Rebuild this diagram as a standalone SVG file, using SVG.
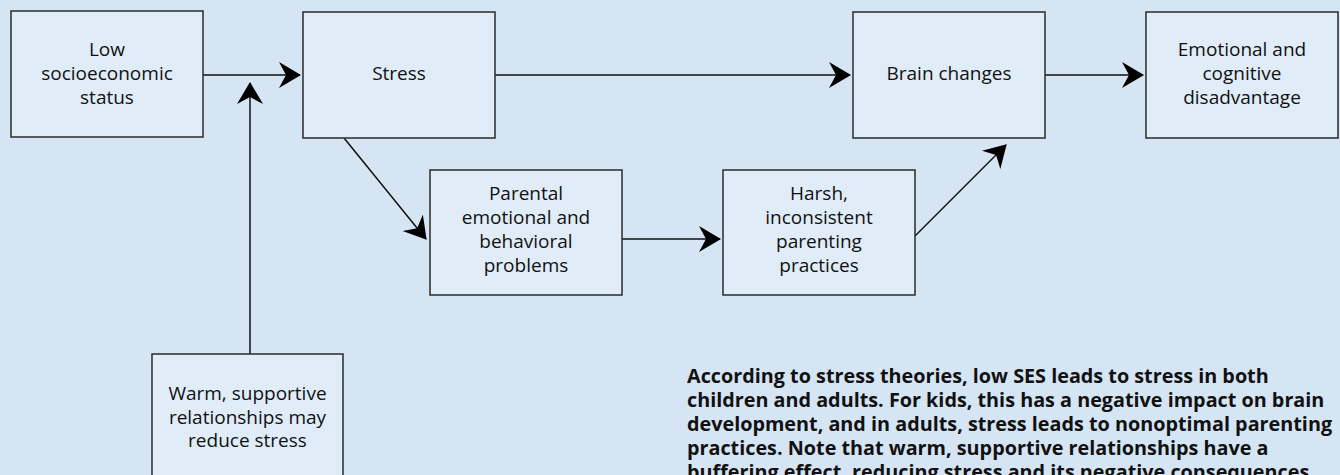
<svg xmlns="http://www.w3.org/2000/svg" width="1340" height="475" viewBox="0 0 1340 475">
<defs>
<style>
.box{fill:#e0ecf8;stroke:#2b2b2b;stroke-width:1.5}
.lbl{font-family:"Open Sans","Noto Sans","Liberation Sans",sans-serif;font-size:19px;fill:#111;text-anchor:middle}
.note{font-family:"Open Sans","Noto Sans","Liberation Sans",sans-serif;font-size:19.8px;font-weight:bold;fill:#111}
.con{stroke:#111;stroke-width:1.5;fill:none;marker-end:url(#ah)}
</style>
<marker id="ah" markerUnits="userSpaceOnUse" markerWidth="23" markerHeight="27" refX="21" refY="13" orient="auto" viewBox="0 0 23 27">
<path d="M0,0 L22,13 L0,26 L7,13 Z" fill="#000"/>
</marker>
</defs>
<rect width="1340" height="475" fill="#d5e5f4"/>
<g id="connectors">
<line class="con" x1="203" y1="75" x2="300" y2="75"/>
<line class="con" x1="250" y1="354" x2="250" y2="83"/>
<line class="con" x1="495" y1="75" x2="850" y2="75"/>
<line class="con" x1="1045" y1="75" x2="1143" y2="75"/>
<line class="con" x1="344" y1="138" x2="426" y2="239"/>
<line class="con" x1="622" y1="239" x2="720" y2="239"/>
<line class="con" x1="915" y1="236" x2="1006" y2="145"/>
</g>
<g id="node-ses">
<rect class="box" x="11" y="11" width="192" height="126"/>
<text class="lbl" x="107" y="56">Low</text>
<text class="lbl" x="107" y="80">socioeconomic</text>
<text class="lbl" x="107" y="104">status</text>
</g>
<g id="node-stress">
<rect class="box" x="303" y="12" width="192" height="126"/>
<text class="lbl" x="399" y="80">Stress</text>
</g>
<g id="node-brain">
<rect class="box" x="853" y="12" width="192" height="126"/>
<text class="lbl" x="949" y="80">Brain changes</text>
</g>
<g id="node-outcome">
<rect class="box" x="1146" y="12" width="192" height="126"/>
<text class="lbl" x="1242" y="56">Emotional and</text>
<text class="lbl" x="1242" y="80">cognitive</text>
<text class="lbl" x="1242" y="104">disadvantage</text>
</g>
<g id="node-parental">
<rect class="box" x="430" y="170" width="192" height="125"/>
<text class="lbl" x="526" y="200">Parental</text>
<text class="lbl" x="526" y="224">emotional and</text>
<text class="lbl" x="526" y="248">behavioral</text>
<text class="lbl" x="526" y="272">problems</text>
</g>
<g id="node-harsh">
<rect class="box" x="723" y="170" width="192" height="125"/>
<text class="lbl" x="819" y="200">Harsh,</text>
<text class="lbl" x="819" y="224">inconsistent</text>
<text class="lbl" x="819" y="248">parenting</text>
<text class="lbl" x="819" y="272">practices</text>
</g>
<g id="node-warm">
<rect class="box" x="152" y="354" width="191" height="126"/>
<text class="lbl" x="247.5" y="400">Warm, supportive</text>
<text class="lbl" x="247.5" y="424">relationships may</text>
<text class="lbl" x="247.5" y="447">reduce stress</text>
</g>
<g id="note">
<text class="note" x="687" y="383">According to stress theories, low SES leads to stress in both</text>
<text class="note" x="687" y="407">children and adults. For kids, this has a negative impact on brain</text>
<text class="note" x="687" y="431">development, and in adults, stress leads to nonoptimal parenting</text>
<text class="note" x="687" y="455">practices. Note that warm, supportive relationships have a</text>
<text class="note" x="687" y="479">buffering effect, reducing stress and its negative consequences.</text>
</g>
</svg>
